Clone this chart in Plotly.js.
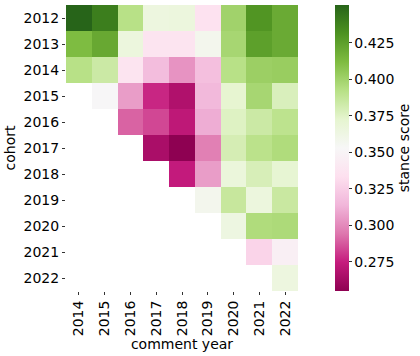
<!DOCTYPE html>
<html>
<head>
<meta charset="utf-8">
<script src="https://cdn.plot.ly/plotly-3.0.1.min.js"></script>
<style>
  html, body { margin: 0; padding: 0; background: #fff; }
  #chart { width: 420px; height: 356px; }
</style>
</head>
<body>
<div id="chart"></div>
<script>
var commentYears = ['2014', '2015', '2016', '2017', '2018', '2019', '2020', '2021', '2022'];
var cohorts = ['2012', '2013', '2014', '2015', '2016', '2017', '2018', '2019', '2020', '2021', '2022'];

// stance score per cohort (row) and comment year (column), null = no data
var row2012 = [0.451, 0.440, 0.392, 0.365, 0.366, 0.335, 0.400, 0.430, 0.420];
var row2013 = [0.412, 0.421, 0.366, 0.337, 0.337, 0.358, 0.398, 0.425, 0.420];
var row2014 = [0.392, 0.384, 0.337, 0.317, 0.303, 0.318, 0.392, 0.402, 0.403];
var row2015 = [null, 0.352, 0.306, 0.277, 0.267, 0.315, 0.372, 0.398, 0.378];
var row2016 = [null, null, 0.290, 0.284, 0.272, 0.311, 0.376, 0.384, 0.390];
var row2017 = [null, null, null, 0.265, 0.255, 0.297, 0.380, 0.391, 0.395];
var row2018 = [null, null, null, null, 0.274, 0.306, 0.367, 0.379, 0.371];
var row2019 = [null, null, null, null, null, 0.358, 0.386, 0.366, 0.385];
var row2020 = [null, null, null, null, null, null, 0.364, 0.395, 0.396];
var row2021 = [null, null, null, null, null, null, null, 0.328, 0.346];
var row2022 = [null, null, null, null, null, null, null, null, 0.365];

var colorTicks = [0.275, 0.300, 0.325, 0.350, 0.375, 0.400, 0.425];

var piyg = ['#8e0152', '#c51b7d', '#de77ae', '#f1b6da', '#fde0ef', '#f7f7f7',
            '#e6f5d0', '#b8e186', '#7fbc41', '#4d9221', '#276419'];
var scale = piyg.map(function(c, i) { return [i / (piyg.length - 1), c]; });

var fontFam = 'DejaVu Sans, sans-serif';

var trace = {
    type: 'heatmap',
    x: commentYears,
    y: cohorts,
    z: [row2012, row2013, row2014, row2015, row2016, row2017, row2018, row2019, row2020, row2021, row2022],
    zmin: 0.255,
    zmax: 0.451,
    colorscale: scale,
    xgap: 0,
    ygap: 0,
    hoverongaps: false,
    colorbar: {
        x: 1.159,
        xanchor: 'left',
        xpad: 0,
        ypad: 0,
        y: 0.5,
        yanchor: 'middle',
        len: 1,
        thickness: 14,
        outlinewidth: 0,
        ticks: 'outside',
        ticklen: 3,
        tickcolor: '#333',
        tickvals: colorTicks,
        ticktext: colorTicks.map(function(v) { return v.toFixed(3); }),
        tickfont: { family: fontFam, size: 14, color: '#000' },
        title: { text: 'stance score', side: 'right', font: { family: fontFam, size: 14, color: '#000' } }
    }
};

var layout = {
    width: 420,
    height: 356,
    margin: { l: 66, r: 122, t: 5, b: 65 },
    paper_bgcolor: '#fff',
    plot_bgcolor: '#fff',
    font: { family: fontFam, size: 14, color: '#000' },
    xaxis: {
        type: 'category',
        tickangle: -90,
        ticks: 'outside',
        ticklen: 3,
        tickcolor: '#333',
        showgrid: false,
        zeroline: false,
        showline: false,
        title: { text: 'comment year', standoff: 2, font: { family: fontFam, size: 14 } }
    },
    yaxis: {
        type: 'category',
        autorange: 'reversed',
        ticks: 'outside',
        ticklen: 3,
        tickcolor: '#333',
        showgrid: false,
        zeroline: false,
        showline: false,
        title: { text: 'cohort', standoff: 4, font: { family: fontFam, size: 14 } }
    }
};

Plotly.newPlot('chart', [trace], layout, { displayModeBar: false, staticPlot: true });
</script>
</body>
</html>
